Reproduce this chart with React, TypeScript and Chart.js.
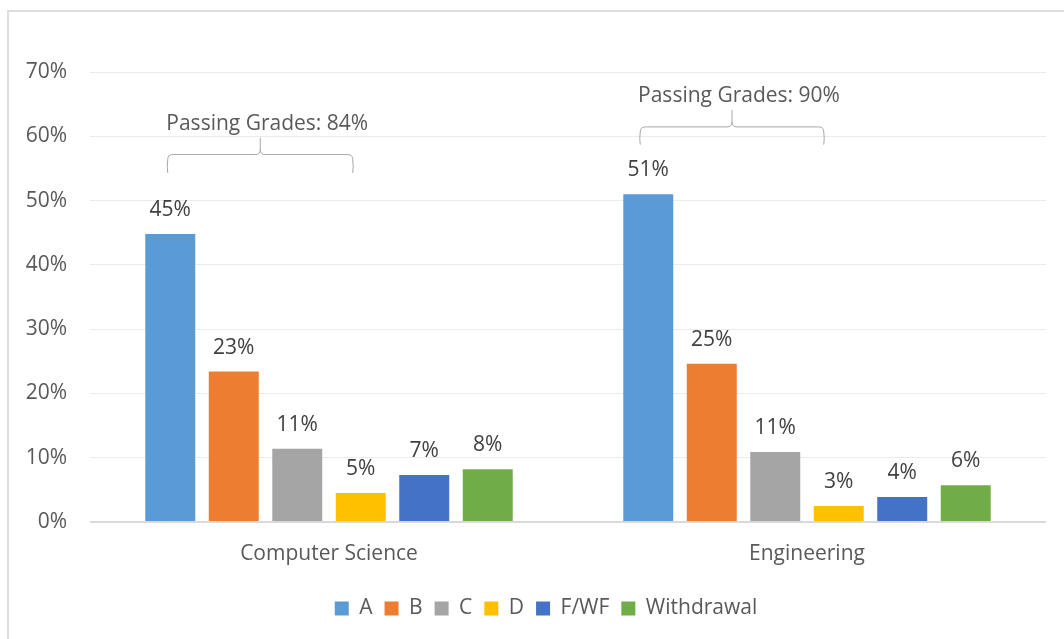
import React, { useEffect, useRef } from "react";
import { Chart, registerables } from "chart.js";

Chart.register(...registerables);

// ---- data ----
const categories = ["Computer Science", "Engineering"];
const seriesNames = ["A", "B", "C", "D", "F/WF", "Withdrawal"];
const gradeA = [44.8, 51.0];
const gradeB = [23.4, 24.6];
const gradeC = [11.4, 10.9];
const gradeD = [4.5, 2.5];
const gradeF = [7.3, 3.9];
const withdrawal = [8.2, 5.7];
const seriesColors = ["#5B9BD5", "#ED7D31", "#A5A5A5", "#FFC000", "#4472C4", "#70AD47"];
const yTicks = [0, 10, 20, 30, 40, 50, 60, 70];
const passingTexts = ["Passing Grades: 84%", "Passing Grades: 90%"];
// brace tip / end heights in axis units
const braceTip = [59.8, 64.1];
const braceEnd = [54.3, 58.7];

const FONT = "'Open Sans', 'Noto Sans', sans-serif";
const FS = 21;

const valueLabelPlugin = {
  id: "valueLabels",
  afterDatasetsDraw(chart: any) {
    const ctx = chart.ctx;
    ctx.save();
    ctx.font = `${FS}px ${FONT}`;
    ctx.fillStyle = "#404040";
    ctx.textAlign = "center";
    ctx.textBaseline = "alphabetic";
    chart.data.datasets.forEach((ds: any, di: number) => {
      const meta = chart.getDatasetMeta(di);
      meta.data.forEach((bar: any, i: number) => {
        const v = ds.data[i];
        ctx.fillText(Math.round(v) + "%", bar.x, bar.y - 18);
      });
    });
    ctx.restore();
  },
};

const legendShiftPlugin = {
  id: "legendShift",
  afterLayout(chart: any) {
    const lg = chart.legend;
    if (lg) {
      lg.left += 46;
    }
  },
};

const bracePlugin = {
  id: "braces",
  afterDatasetsDraw(chart: any) {
    const ctx = chart.ctx;
    const y = chart.scales.y;
    const metaA = chart.getDatasetMeta(0);
    const metaD = chart.getDatasetMeta(3);
    const leftOff = [-2.5, -8];
    const rightOff = [-8, -15];
    ctx.save();
    categories.forEach((_, i) => {
      const L = metaA.data[i].x + leftOff[i];
      const R = metaD.data[i].x + rightOff[i];
      const T = (L + R) / 2;
      const yTip = y.getPixelForValue(braceTip[i]);
      const yEnd = y.getPixelForValue(braceEnd[i]);
      const yMid = yTip + 17;
      const r = 5;
      ctx.strokeStyle = "#A6A6A6";
      ctx.lineWidth = 1;
      ctx.beginPath();
      ctx.moveTo(L, yEnd);
      ctx.quadraticCurveTo(L - 1, (yEnd + yMid) / 2 + 3, L, yMid + r);
      ctx.quadraticCurveTo(L, yMid, L + r, yMid);
      ctx.lineTo(T - r, yMid);
      ctx.quadraticCurveTo(T, yMid, T, yMid - r);
      ctx.lineTo(T, yTip);
      ctx.moveTo(T, yMid - r);
      ctx.quadraticCurveTo(T, yMid, T + r, yMid);
      ctx.lineTo(R - r, yMid);
      ctx.quadraticCurveTo(R, yMid, R, yMid + r);
      ctx.quadraticCurveTo(R + 1, (yEnd + yMid) / 2 + 3, R, yEnd);
      ctx.stroke();
      ctx.font = `${FS}px ${FONT}`;
      ctx.fillStyle = "#595959";
      ctx.textAlign = "center";
      ctx.textBaseline = "alphabetic";
      ctx.fillText(passingTexts[i], T + 7, yTip - 8);
    });
    ctx.restore();
  },
};

export default function App() {
  const ref = useRef<HTMLCanvasElement | null>(null);

  useEffect(() => {
    if (!ref.current) return;
    const series = [gradeA, gradeB, gradeC, gradeD, gradeF, withdrawal];
    const chart = new Chart(ref.current, {
      type: "bar",
      data: {
        labels: categories,
        datasets: series.map((d, i) => ({
          label: seriesNames[i],
          data: d,
          backgroundColor: seriesColors[i],
          borderWidth: 0,
          categoryPercentage: 0.797,
          barPercentage: 0.787,
        })),
      },
      options: {
        animation: false,
        responsive: false,
        devicePixelRatio: 1,
        layout: { padding: { left: 0, right: 18, top: 72, bottom: 10 } },
        font: { family: FONT },
        plugins: {
          tooltip: { enabled: false },
          title: { display: false },
          legend: {
            position: "bottom",
            labels: {
              boxWidth: 14,
              boxHeight: 14,
              padding: 12,
              color: "#595959",
              font: { family: FONT, size: FS },
            },
          },
        },
        scales: {
          x: {
            grid: { display: false, drawTicks: false },
            border: { display: false },
            ticks: { color: "#595959", font: { family: FONT, size: FS }, padding: 19 },
            afterFit: (s: any) => {
              s.height = 64;
            },
          },
          y: {
            min: 0,
            max: 70,
            afterBuildTicks: (s: any) => {
              s.ticks = yTicks.map((v) => ({ value: v }));
            },
            grid: {
              drawTicks: false,
              color: (c: any) => (c.tick && c.tick.value === 0 ? "#D9D9D9" : "#EBEBEB"),
              lineWidth: (c: any) => (c.tick && c.tick.value === 0 ? 2 : 1),
            },
            border: { display: false },
            ticks: {
              color: "#595959",
              font: { family: FONT, size: FS },
              padding: 23,
              callback: (v: any) => v + "%",
            },
            afterFit: (s: any) => {
              s.width = 90;
            },
          },
        },
      },
      plugins: [valueLabelPlugin, bracePlugin, legendShiftPlugin],
    } as any);
    return () => chart.destroy();
  }, []);

  return (
    <div style={{ position: "fixed", left: 0, top: 0, width: 1064, height: 639, overflow: "hidden", background: "#fff" }}>
      <div
        style={{
          position: "absolute",
          left: 7,
          top: 10,
          width: 1200,
          height: 800,
          border: "2px solid #DEDEDE",
        }}
      />
      <div style={{ position: "absolute", left: 0, top: 0, width: 1064, height: 639 }}>
        <canvas ref={ref} width={1064} height={639} style={{ display: "block", width: 1064, height: 639 }} />
      </div>
    </div>
  );
}
